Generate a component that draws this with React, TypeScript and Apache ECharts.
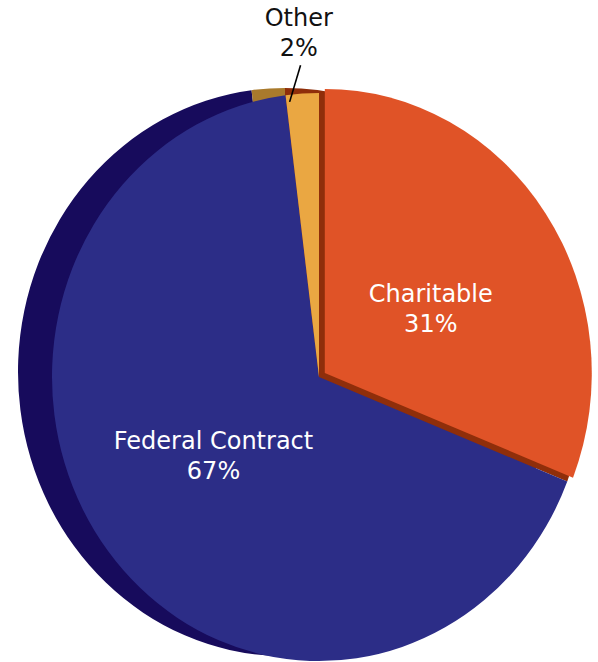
import React, { useEffect, useRef } from "react";
import * as echarts from "echarts";

// ---- data ----
const categories = ["Charitable", "Federal Contract", "Other"];
const values = [31, 67, 2];

// ---- styles / layout ----
const faceColors: Record<string, string> = {
  Charitable: "#e05327",
  "Federal Contract": "#2c2d87",
  Other: "#eaa742",
};
const sideColors: Record<string, string> = {
  Charitable: "#8f2e0a",
  "Federal Contract": "#170b5c",
  Other: "#a97a2c",
};
const exploded: Record<string, number> = { Charitable: 7 };
const labelStyle: Record<string, { f: number; dy: number; inside: boolean }> = {
  Charitable: { f: 0.48, dy: 13, inside: true },
  "Federal Contract": { f: 0.5, dy: -8, inside: true },
  Other: { f: 1.21, dy: -1, inside: false },
};
const CX = 319;
const CY = 377;
const RX = 267;
const RY = 284;
const SIDE_DX = -34;
const SIDE_DY = -5;
const FONT = '"DejaVu Sans", "Open Sans", sans-serif';

const total = values.reduce((a, b) => a + b, 0);
function sliceAngles(i: number) {
  let acc = 0;
  for (let j = 0; j < i; j++) acc += values[j];
  const s = (acc / total) * Math.PI * 2 - Math.PI / 2;
  const e = ((acc + values[i]) / total) * Math.PI * 2 - Math.PI / 2;
  return [s, e];
}
function ellSector(cx: number, cy: number, s: number, e: number, fill: string) {
  return {
    type: "sector",
    x: cx,
    y: cy,
    scaleY: RY / RX,
    shape: { cx: 0, cy: 0, r: RX, r0: 0, startAngle: s, endAngle: e, clockwise: true },
    style: { fill },
  };
}
function pt(cx: number, cy: number, a: number, f: number) {
  return [cx + RX * f * Math.cos(a), cy + RY * f * Math.sin(a)];
}

export default function App() {
  const ref = useRef<HTMLDivElement>(null);
  useEffect(() => {
    document.body.style.margin = "0";
    const chart = echarts.init(ref.current!, null, { renderer: "svg" });
    const data = categories.map((name, i) => ({ name, value: values[i] }));
    chart.setOption({
      animation: false,
      backgroundColor: "#ffffff",
      series: [
        {
          type: "custom",
          coordinateSystem: "none",
          silent: true,
          z: 1,
          data,
          renderItem: (params: any) => {
            const i = params.dataIndex;
            const name = categories[i];
            const [s, e] = sliceAngles(i);
            return ellSector(CX + SIDE_DX, CY + SIDE_DY, s, e, sideColors[name]);
          },
        },
        {
          type: "custom",
          coordinateSystem: "none",
          silent: true,
          z: 2,
          data,
          renderItem: (params: any) => {
            const i = params.dataIndex;
            const name = categories[i];
            const [s, e] = sliceAngles(i);
            const mid = (s + e) / 2;
            const off = exploded[name] || 0;
            const fx = CX + off * Math.cos(mid);
            const fy = CY + off * Math.sin(mid);
            const children: any[] = [];
            if (off) children.push(ellSector(CX, CY, s, e, sideColors[name]));
            children.push(ellSector(fx, fy, s, e, faceColors[name]));
            const ls = labelStyle[name];
            const pct = Math.round((values[i] / total) * 100) + "%";
            const [lx, ly] = pt(fx, fy, mid, ls.f);
            if (!ls.inside) {
              const la = s + (e - s) * 0.1;
              const [x1, y1] = pt(CX, CY, la, 0.975);
              const [x2, y2] = pt(CX, CY, mid, 1.1);
              children.push({
                type: "line",
                shape: { x1, y1, x2, y2 },
                style: { stroke: "#000000", lineWidth: 1.6 },
              });
            }
            children.push({
              type: "text",
              x: lx,
              y: ly + ls.dy,
              style: {
                text: name + "\n" + pct,
                fill: ls.inside ? "#ffffff" : "#111111",
                fontSize: 24,
                fontFamily: FONT,
                lineHeight: 30,
                align: "center",
                verticalAlign: "middle",
              },
            });
            return { type: "group", children };
          },
        },
      ],
    });
    return () => chart.dispose();
  }, []);
  return <div ref={ref} style={{ width: 598, height: 662 }} />;
}
